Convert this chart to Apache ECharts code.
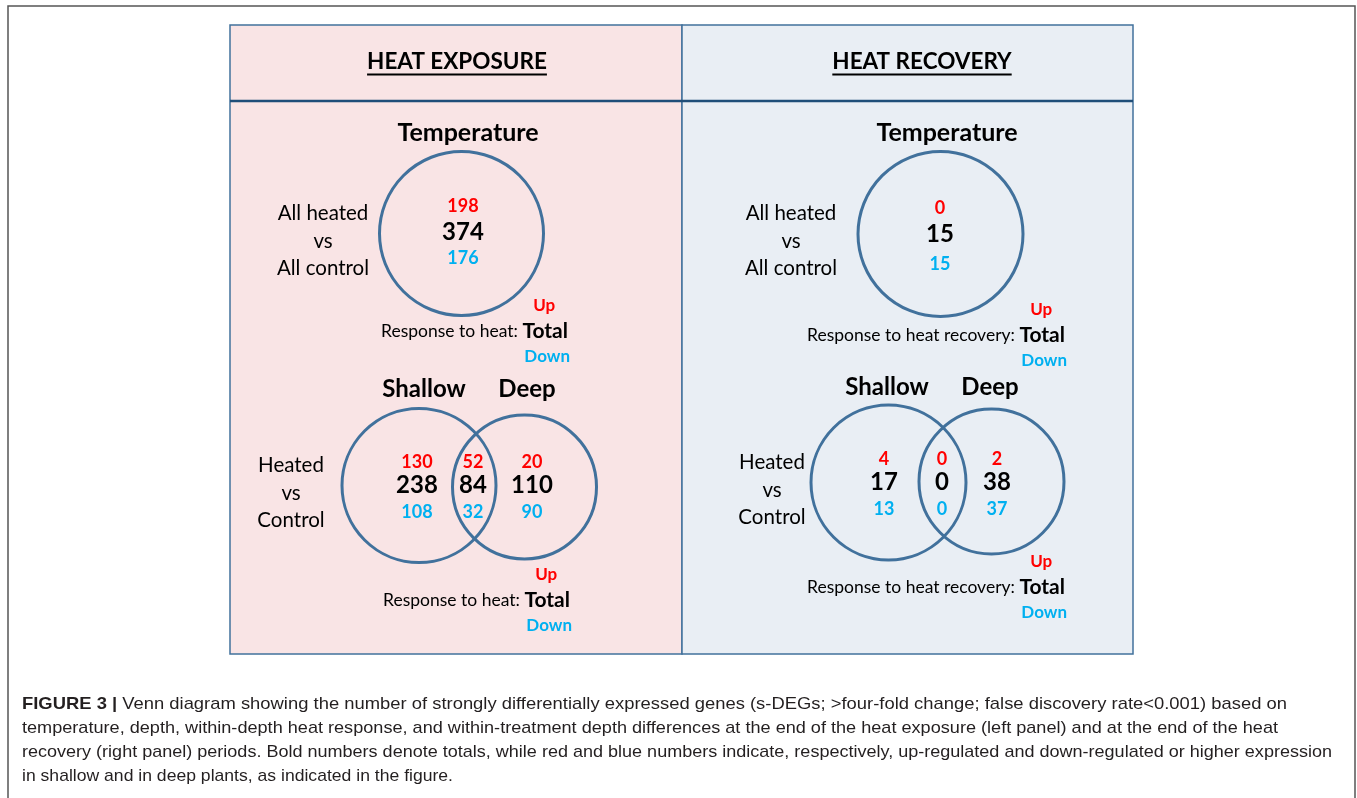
<!DOCTYPE html>
<html>
<head>
<meta charset="utf-8">
<script src="https://cdn.jsdelivr.net/npm/echarts@6/dist/echarts.min.js"></script>
<style>
  html, body { margin: 0; padding: 0; background: #fff; }
  #chart { width: 1357px; height: 798px; }
</style>
</head>
<body>
<div id="chart"></div>
<script>
// ---- data ----
const panelTitles = ['HEAT EXPOSURE', 'HEAT RECOVERY'];
const responseLabels = ['Response to heat: ', 'Response to heat recovery: '];
const tempSide = ['All heated', 'vs', 'All control'];
const depthSide = ['Heated', 'vs', 'Control'];
const depthNames = ['Shallow', 'Deep'];

// Temperature circle (exposure, recovery)
const tempUp = [198, 0];
const tempTotal = [374, 15];
const tempDown = [176, 15];

// Depth venn: shallow only, both, deep only
const exposureUp = [130, 52, 20];
const exposureTotal = [238, 84, 110];
const exposureDown = [108, 32, 90];
const recoveryUp = [4, 0, 2];
const recoveryTotal = [17, 0, 38];
const recoveryDown = [13, 0, 37];

const captionLead = 'FIGURE 3 | ';
const captionLines = [
  'Venn diagram showing the number of strongly differentially expressed genes (s-DEGs; >four-fold change; false discovery rate<0.001) based on',
  'temperature, depth, within-depth heat response, and within-treatment depth differences at the end of the heat exposure (left panel) and at the end of the heat',
  'recovery (right panel) periods. Bold numbers denote totals, while red and blue numbers indicate, respectively, up-regulated and down-regulated or higher expression',
  'in shallow and in deep plants, as indicated in the figure.'
];

// ---- layout (pixels) ----
const RED = '#ff0000', BLUE = '#00b0f0', INK = '#000';
const LINE = '#41719c', HEAD_LINE = '#1f4e79';
const FONT = 'Lato, "Open Sans", sans-serif';
const CAP_FONT = '"Liberation Sans", Arial, sans-serif';
const CAP_SIZE = 17;
const CAP_X = 22;
const capEnds = [1287, 1278, 1332, 453]; // right end of each caption line

const layout = [
  {
    x0: 230, x1: 682, fill: '#f9e4e5', titleX: 457,
    tempHead: [468, 133], tempCircle: [461.5, 233.5, 82],
    tempSideX: 323, tempSideY: [213, 241, 268],
    tempNumX: 463, tempNumY: [206, 232, 258],
    tempTotalEnd: [568, 331],
    vennHead: [[424, 389], [527, 389]],
    vennCircles: [[419, 485.5, 77], [524.5, 487, 72]],
    vennSideX: 291, vennSideY: [465, 493, 520],
    vennNumX: [417, 473, 532], vennNumY: [462, 485, 512],
    vennTotalEnd: [570, 600]
  },
  {
    x0: 682, x1: 1133, fill: '#e9eef4', titleX: 922,
    tempHead: [947, 133], tempCircle: [940.5, 234, 82.5],
    tempSideX: 791, tempSideY: [213, 241, 268],
    tempNumX: 940, tempNumY: [208, 234, 264],
    tempTotalEnd: [1065, 335],
    vennHead: [[887, 387], [990, 387]],
    vennCircles: [[888.5, 482.5, 77.5], [991.5, 481.5, 72.5]],
    vennSideX: 772, vennSideY: [462, 490, 517],
    vennNumX: [884, 942, 997], vennNumY: [459, 482, 509],
    vennTotalEnd: [1065, 587]
  }
];
const PANEL_TOP = 25, HEAD_Y = 101, PANEL_BOTTOM = 654;

// text width helper (for underline, Up/Down centring, caption fit)
const measureCtx = document.createElement('canvas').getContext('2d');
function textWidth(txt, font) {
  measureCtx.font = font;
  return measureCtx.measureText(txt).width;
}

const myChart = echarts.init(document.getElementById('chart'));

// ---- build marks from the data arrays ----
const circleData = [];
const numberData = []; // [x, y, value, kind]
const kinds = ['up', 'total', 'down'];
const tempSets = [tempUp, tempTotal, tempDown];
const vennSets = [
  [exposureUp, exposureTotal, exposureDown],
  [recoveryUp, recoveryTotal, recoveryDown]
];

layout.forEach((p, i) => {
  circleData.push(p.tempCircle);
  p.vennCircles.forEach((c) => circleData.push(c));
  tempSets.forEach((arr, k) => {
    numberData.push([p.tempNumX, p.tempNumY[k], arr[i], kinds[k]]);
  });
  vennSets[i].forEach((arr, k) => {
    arr.forEach((v, j) => {
      numberData.push([p.vennNumX[j], p.vennNumY[k], v, kinds[k]]);
    });
  });
});

const numStyle = {
  up: { fontSize: 18, fill: RED },
  total: { fontSize: 24, fill: INK },
  down: { fontSize: 18, fill: BLUE }
};

// ---- static graphic: panels, headings, labels, caption ----
const graphics = [];

// outer frame (open at the bottom)
graphics.push({
  type: 'polyline', silent: true,
  shape: { points: [[8, 800], [8, 6], [1355, 6], [1355, 800]] },
  style: { stroke: '#555', lineWidth: 1.5, fill: null }
});

function txt(x, y, text, size, opts) {
  opts = opts || {};
  graphics.push({
    type: 'text', x: x, y: y, silent: true, z: 10,
    scaleX: opts.scaleX || 1,
    style: {
      text: text,
      fontFamily: opts.family || FONT,
      fontSize: size,
      fontWeight: opts.bold ? 'bold' : 'normal',
      fill: opts.color || INK,
      align: opts.align || 'center',
      verticalAlign: 'middle'
    }
  });
}

function responseBlock(p, i, end) {
  const totalW = textWidth('Total', 'bold 21px ' + FONT);
  graphics.push({
    type: 'text', x: end[0], y: end[1], silent: true, z: 10,
    style: {
      text: '{a|' + responseLabels[i] + '}{b|Total}',
      align: 'right', verticalAlign: 'middle',
      rich: {
        a: { fontFamily: FONT, fontSize: 17.5, fill: INK },
        b: { fontFamily: FONT, fontSize: 21, fontWeight: 'bold', fill: INK }
      }
    }
  });
  const cx = end[0] - totalW / 2;
  txt(cx - 1, end[1] - 25, 'Up', 17, { bold: true, color: RED });
  txt(cx + 2, end[1] + 26, 'Down', 17, { bold: true, color: BLUE });
}

layout.forEach((p, i) => {
  // panel box
  graphics.push({
    type: 'rect', silent: true, z: 0,
    shape: { x: p.x0, y: PANEL_TOP, width: p.x1 - p.x0, height: PANEL_BOTTOM - PANEL_TOP },
    style: { fill: p.fill, stroke: LINE, lineWidth: 1.5 }
  });
  graphics.push({
    type: 'line', silent: true, z: 1,
    shape: { x1: p.x0, y1: HEAD_Y, x2: p.x1, y2: HEAD_Y },
    style: { stroke: HEAD_LINE, lineWidth: 2.5 }
  });
  // panel title with underline
  txt(p.titleX, 62, panelTitles[i], 22.5, { bold: true });
  const tw = textWidth(panelTitles[i], 'bold 22.5px ' + FONT);
  graphics.push({
    type: 'line', silent: true, z: 10,
    shape: { x1: p.titleX - tw / 2, y1: 74.5, x2: p.titleX + tw / 2, y2: 74.5 },
    style: { stroke: INK, lineWidth: 2 }
  });

  // temperature block
  txt(p.tempHead[0], p.tempHead[1], 'Temperature', 25, { bold: true });
  tempSide.forEach((s, k) => txt(p.tempSideX, p.tempSideY[k], s, 20.5));
  responseBlock(p, i, p.tempTotalEnd);

  // depth block
  depthNames.forEach((s, k) => txt(p.vennHead[k][0], p.vennHead[k][1], s, 24, { bold: true }));
  depthSide.forEach((s, k) => txt(p.vennSideX, p.vennSideY[k], s, 20.5));
  responseBlock(p, i, p.vennTotalEnd);
});

// caption: each line stretched a little so it ends where the reference line ends
const capFont = CAP_SIZE + 'px ' + CAP_FONT;
const leadW = textWidth(captionLead, 'bold ' + capFont);
captionLines.forEach((line, k) => {
  const w = textWidth(line, capFont) + (k === 0 ? leadW : 0);
  const s = (capEnds[k] - CAP_X) / w;
  if (k === 0) {
    graphics.push({
      type: 'text', x: CAP_X, y: 704, silent: true, scaleX: s,
      style: {
        text: '{b|' + captionLead + '}{r|' + line + '}',
        align: 'left', verticalAlign: 'middle',
        rich: {
          b: { fontFamily: CAP_FONT, fontSize: CAP_SIZE, fontWeight: 'bold', fill: '#231f20' },
          r: { fontFamily: CAP_FONT, fontSize: CAP_SIZE, fill: '#231f20' }
        }
      }
    });
  } else {
    txt(CAP_X, 704 + k * 24, line, CAP_SIZE, { family: CAP_FONT, align: 'left', color: '#231f20', scaleX: s });
  }
});

// ---- options ----
const options = {
  animation: false,
  backgroundColor: '#fff',
  grid: { left: 0, right: 0, top: 0, bottom: 0 },
  xAxis: { type: 'value', min: 0, max: 1357, show: false },
  yAxis: { type: 'value', min: 0, max: 798, inverse: true, show: false },
  graphic: graphics,
  series: [
    {
      // venn circles
      type: 'custom', z: 5, silent: true,
      data: circleData,
      renderItem: (params, api) => {
        const c = api.coord([api.value(0), api.value(1)]);
        const r = api.size([api.value(2), 0])[0];
        return {
          type: 'circle',
          shape: { cx: c[0], cy: c[1], r: r },
          style: { fill: null, stroke: LINE, lineWidth: 3 }
        };
      }
    },
    {
      // up / total / down counts
      type: 'custom', z: 6, silent: true,
      data: numberData,
      renderItem: (params, api) => {
        const d = numberData[params.dataIndex];
        const c = api.coord([d[0], d[1]]);
        const s = numStyle[d[3]];
        return {
          type: 'text', x: c[0], y: c[1],
          style: {
            text: String(d[2]),
            fontFamily: FONT, fontSize: s.fontSize, fontWeight: 'bold',
            fill: s.fill, align: 'center', verticalAlign: 'middle'
          }
        };
      }
    }
  ]
};

myChart.setOption(options);
</script>
</body>
</html>
